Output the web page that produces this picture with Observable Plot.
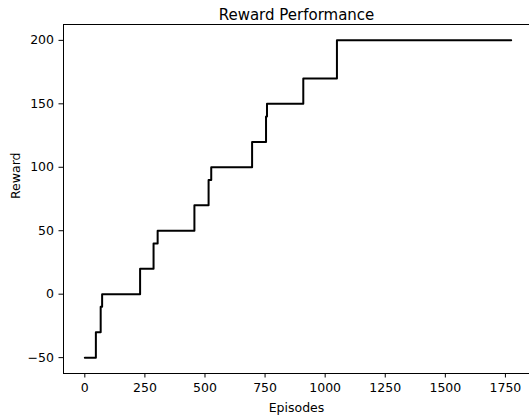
<!DOCTYPE html>
<html>
<head>
<meta charset="utf-8">
<script src="https://cdn.jsdelivr.net/npm/d3@7"></script>
<script src="https://cdn.jsdelivr.net/npm/@observablehq/plot@0.6"></script>
<style>
  html, body { margin: 0; padding: 0; background: #fff; overflow: hidden; }
  #chart { width: 529px; height: 419px; overflow: hidden; }
</style>
</head>
<body>
<div id="chart"></div>
<script>
// Step change points (episode where reward changes, new reward)
const episodes = [0, 46, 66, 72, 230, 286, 303, 456, 515, 526, 696, 754, 758, 909, 1049, 1774];
const rewards  = [-50, -30, -10, 0, 20, 40, 50, 70, 90, 100, 120, 140, 150, 170, 200, 200];
const xTicks = [0, 250, 500, 750, 1000, 1250, 1500, 1750];
const yTicks = [-50, 0, 50, 100, 150, 200];
const title = "Reward Performance";
const xLabel = "Episodes";
const yLabel = "Reward";

const data = episodes.map((e, i) => ({episode: e, reward: rewards[i]}));
const xMin = d3.min(episodes), xMax = d3.max(episodes);
const yMin = d3.min(rewards), yMax = d3.max(rewards);
const xPad = (xMax - xMin) * 0.05, yPad = (yMax - yMin) * 0.05;

const font = "DejaVu Sans";
const chart = Plot.plot({
  width: 529,
  height: 419,
  marginLeft: 63,
  marginTop: 24,
  marginBottom: 46,
  marginRight: 0,
  style: {fontFamily: font, fontSize: "12.5px", color: "#000", background: "#fff"},
  x: {domain: [xMin - xPad, xMax + xPad], range: [63, 532], label: null},
  y: {domain: [yMin - yPad, yMax + yPad], label: null},
  marks: [
    Plot.axisX(xTicks, {tickSize: 4.5, tickPadding: 5, stroke: "#000", strokeWidth: 1, label: null, fontSize: 12.5, tickFormat: d3.format("d")}),
    Plot.axisY(yTicks, {tickSize: 4.5, tickPadding: 5, stroke: "#000", strokeWidth: 1, label: null, fontSize: 12.5}),
    Plot.line(data, {x: "episode", y: "reward", curve: "step-after", stroke: "#000", strokeWidth: 2}),
    Plot.frame({stroke: "#000", strokeWidth: 1}),
    Plot.text([title], {frameAnchor: "top", lineAnchor: "bottom", dy: -5, fontSize: 15, fill: "#000"}),
    Plot.text([xLabel], {frameAnchor: "bottom", lineAnchor: "bottom", dy: 38, fontSize: 12.5, fill: "#000"}),
    Plot.text([yLabel], {frameAnchor: "left", rotate: -90, dx: -48, fontSize: 12.5, fill: "#000"})
  ]
});
document.getElementById("chart").appendChild(chart);
</script>
</body>
</html>
